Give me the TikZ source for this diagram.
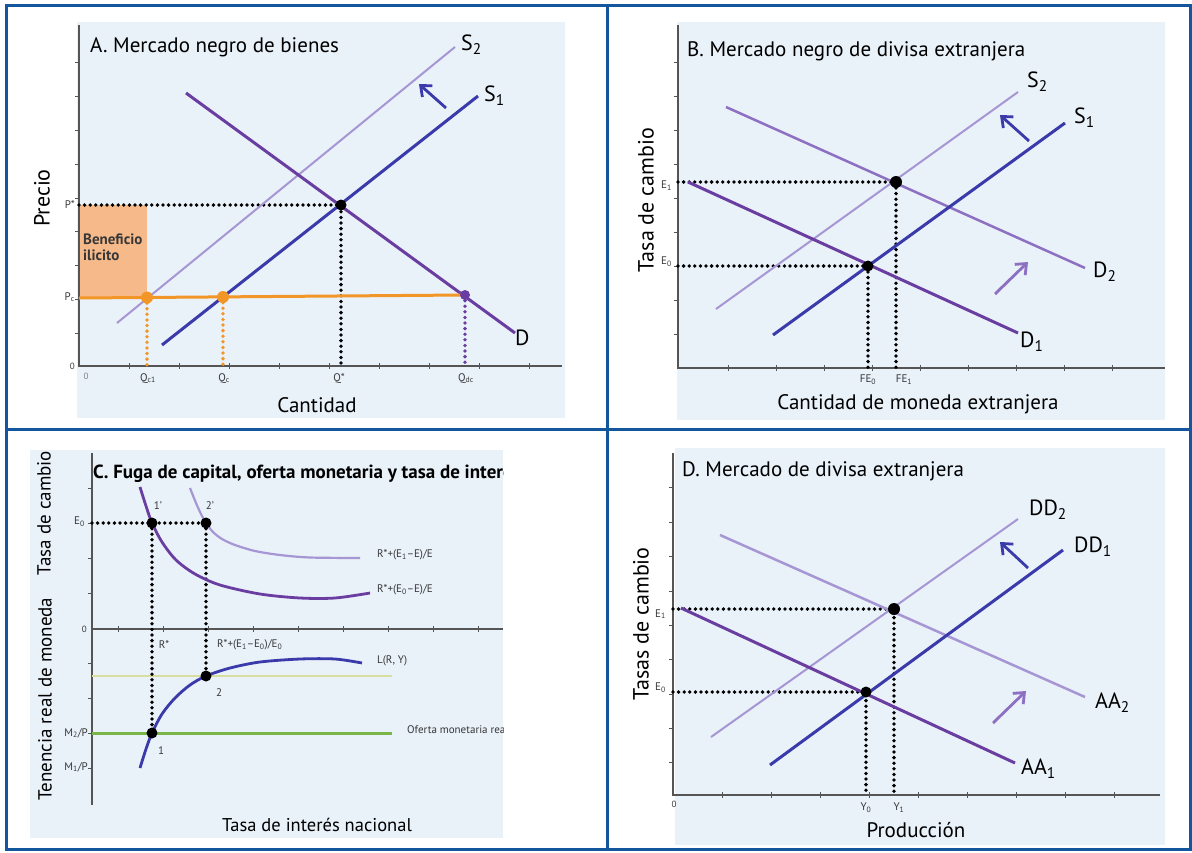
\documentclass[tikz,border=0pt]{standalone}
\usepackage{fontspec}
\setmainfont{PT Sans}
\usepackage{tikz}
\usetikzlibrary{arrows.meta}
\definecolor{frameblue}{RGB}{20,86,158}
\definecolor{bgblue}{RGB}{233,241,249}
\definecolor{axisgray}{RGB}{85,85,85}
\definecolor{labelgray}{RGB}{55,55,55}
\definecolor{dpurple}{RGB}{106,62,160}
\definecolor{mpurple}{RGB}{142,112,194}
\definecolor{lpurple}{RGB}{166,150,212}
\definecolor{sblue}{RGB}{58,58,170}
\definecolor{pcorange}{RGB}{243,150,40}
\definecolor{profitfill}{RGB}{246,185,138}
\definecolor{msgreen}{RGB}{122,182,72}
\definecolor{palegreen}{RGB}{216,222,160}
\tikzset{panelframe/.style={draw=frameblue,line width=3pt}}
\tikzset{plotbg/.style={fill=bgblue}}
\tikzset{axisline/.style={draw=axisgray,line width=1.3pt}}
\tikzset{tickmark/.style={draw=axisgray,line width=0.8pt}}
\tikzset{guide/.style={line width=3.8pt,dash pattern=on 0pt off 5.6pt,line cap=round}}
\tikzset{bigdot/.style={circle,fill=black,inner sep=0pt,minimum size=11pt}}
\tikzset{shiftarrow/.style={line width=2.8pt,-{Straight Barb[length=9pt,width=15pt]}}}
\tikzset{ticklabel/.style={text=labelgray,inner sep=1pt,font=\fontsize{11}{12}\selectfont}}
\tikzset{curvelabel/.style={anchor=west,inner sep=1pt,font=\fontsize{22}{24}\selectfont}}
\tikzset{paneltitle/.style={anchor=base west,inner sep=0pt,font=\fontsize{21}{23}\selectfont}}
\tikzset{axistitle/.style={inner sep=0pt,font=\fontsize{21}{23}\selectfont}}
\begin{document}
\begin{tikzpicture}[x=1pt,y=-1pt]
\useasboundingbox (0,0) rectangle (1192,852);

\fill[plotbg] (77,22) rectangle (565,418);
\fill[profitfill] (79,205) rectangle (147,298);
\draw[axisline] (79,25) -- (79,366) -- (562,366);
\foreach \ty in {62,96,130,164,198,231,265,299,333} \draw[tickmark] (75,\ty) -- (79,\ty);
\foreach \tx in {129,179,...,529} \draw[tickmark] (\tx,363) -- (\tx,369);
\coordinate (pstarA) at (79,205);
\coordinate (eqA) at (341,205);
\coordinate (qstarA) at (341,366);
\coordinate (pcA) at (79,298);
\coordinate (qc1A) at (147,297.5);
\coordinate (qcA) at (223,297);
\coordinate (qdcA) at (465,295);
\coordinate (qc1axis) at (147,366);
\coordinate (qcaxis) at (223,366);
\coordinate (qdcaxis) at (465,366);
\draw[guide] (pstarA) -- (eqA) -- (qstarA);
\draw[guide,pcorange] (qc1A) -- (qc1axis);
\draw[guide,pcorange] (qcA) -- (qcaxis);
\draw[guide,dpurple] (qdcA) -- (qdcaxis);
\coordinate (s2A0) at (117,323);
\coordinate (s2A1) at (455,47);
\coordinate (s1A0) at (162,345);
\coordinate (s1A1) at (478,96);
\coordinate (dA0) at (186,93);
\coordinate (dA1) at (515,333);
\draw[lpurple,line width=2pt] (s2A0) -- (s2A1);
\draw[sblue,line width=3pt] (s1A0) -- (s1A1);
\draw[dpurple,line width=3pt] (dA0) -- (dA1);
\draw[pcorange,line width=3pt] (pcA) -- (qdcA);
\node[bigdot] (dotA) at (eqA) {};
\node[bigdot,fill=pcorange,minimum size=12pt] (dotQc1) at (qc1A) {};
\node[bigdot,fill=pcorange,minimum size=12pt] (dotQc) at (qcA) {};
\node[bigdot,fill=dpurple,minimum size=10pt] (dotQdc) at (qdcA) {};
\coordinate (arrA0) at (446,108);
\coordinate (arrA1) at (419,84);
\draw[shiftarrow,sblue] (arrA0) -- (arrA1);
\node[curvelabel] (labS2A) at (460,45) {S\textsubscript{2}};
\node[curvelabel] (labS1A) at (483,96) {S\textsubscript{1}};
\node[curvelabel] (labDA) at (514,338) {D};
\node[font=\bfseries\fontsize{15}{16}\selectfont,text=labelgray,anchor=north west,align=left,inner sep=0pt] (benef) at (83,234) {Beneficio\\ilicito};
\node[ticklabel,anchor=east] (labPstar) at (76,205) {P*};
\node[ticklabel,anchor=east] (labPc) at (76,297) {P\textsubscript{c}};
\node[ticklabel,anchor=east,font=\fontsize{9}{10}\selectfont] (zeroA) at (76,366) {0};
\node[ticklabel,anchor=north,font=\fontsize{9}{10}\selectfont,text=gray] (zeroAx) at (86,372) {0};
\node[ticklabel,anchor=north] (labQc1) at (148,372) {Q\textsubscript{c1}};
\node[ticklabel,anchor=north] (labQc) at (224,372) {Q\textsubscript{c}};
\node[ticklabel,anchor=north] (labQstar) at (339,372) {Q*};
\node[ticklabel,anchor=north] (labQdc) at (466,372) {Q\textsubscript{dc}};
\node[paneltitle] (titleA) at (90,52) {A. Mercado negro de bienes};
\node[axistitle,rotate=90,font=\fontsize{22}{24}\selectfont] (yA) at (42,198) {Precio};
\node[axistitle] (xA) at (317,405) {Cantidad};

\fill[plotbg] (677,22) rectangle (1165,420);
\draw[axisline] (678,25) -- (678,368) -- (1165,368);
\foreach \ty in {62,96,130,164,198,232,266,300,334} \draw[tickmark] (674,\ty) -- (678,\ty);
\foreach \tx in {728,776,...,1112} \draw[tickmark] (\tx,365) -- (\tx,371);
\coordinate (e1B) at (678,182);
\coordinate (e0B) at (678,266);
\coordinate (eq1B) at (896,182);
\coordinate (eq0B) at (868,266);
\coordinate (fe1B) at (896,368);
\coordinate (fe0B) at (868,368);
\draw[guide] (e1B) -- (eq1B) -- (fe1B);
\draw[guide] (e0B) -- (eq0B) -- (fe0B);
\coordinate (s2B0) at (716,309);
\coordinate (s2B1) at (1018,92);
\coordinate (s1B0) at (773,335);
\coordinate (s1B1) at (1065,123);
\coordinate (d2B0) at (726,107);
\coordinate (d2B1) at (1085,268);
\coordinate (d1B0) at (688,182);
\coordinate (d1B1) at (1018,333);
\draw[lpurple,line width=2pt] (s2B0) -- (s2B1);
\draw[mpurple,line width=2.5pt] (d2B0) -- (d2B1);
\draw[sblue,line width=3pt] (s1B0) -- (s1B1);
\draw[dpurple,line width=3pt] (d1B0) -- (d1B1);
\node[bigdot,minimum size=12pt] (dot1B) at (eq1B) {};
\node[bigdot] (dot0B) at (eq0B) {};
\coordinate (arrSB0) at (1029,141);
\coordinate (arrSB1) at (1000,115);
\coordinate (arrDB0) at (995,294);
\coordinate (arrDB1) at (1028,262);
\draw[shiftarrow,sblue] (arrSB0) -- (arrSB1);
\draw[shiftarrow,mpurple] (arrDB0) -- (arrDB1);
\node[curvelabel] (labS2B) at (1026,82) {S\textsubscript{2}};
\node[curvelabel] (labS1B) at (1073,118) {S\textsubscript{1}};
\node[curvelabel] (labD2B) at (1092,272) {D\textsubscript{2}};
\node[curvelabel] (labD1B) at (1019,342) {D\textsubscript{1}};
\node[ticklabel,anchor=east] (labE1B) at (673,186) {E\textsubscript{1}};
\node[ticklabel,anchor=east] (labE0B) at (673,262) {E\textsubscript{0}};
\node[ticklabel,anchor=north] (labFE0) at (868,374) {FE\textsubscript{0}};
\node[ticklabel,anchor=north] (labFE1) at (904,374) {FE\textsubscript{1}};
\node[paneltitle] (titleB) at (687,56) {B. Mercado negro de divisa extranjera};
\node[axistitle,rotate=90,font=\fontsize{22}{24}\selectfont] (yB) at (646,200) {Tasa de cambio};
\node[axistitle] (xB) at (918,404) {Cantidad de moneda extranjera};

\fill[plotbg] (30,450) rectangle (503,838);
\draw[axisline] (92,453) -- (92,805);
\draw[axisline] (92,629) -- (503,629);
\foreach \ty in {488,523,558,593,663,698,733,768} \draw[tickmark] (88,\ty) -- (92,\ty);
\foreach \tx in {118,163,...,478} \draw[tickmark] (\tx,626) -- (\tx,632);
\coordinate (e0C) at (92,523);
\coordinate (p1C) at (152,523);
\coordinate (p2C) at (206,523);
\coordinate (q1C) at (152,733);
\coordinate (q2C) at (206,676);
\coordinate (m2C) at (92,733);
\coordinate (m2Cend) at (392,733);
\coordinate (mC) at (92,676);
\coordinate (mCend) at (392,676);
\draw[palegreen,line width=2pt] (mC) -- (mCend);
\draw[msgreen,line width=3pt] (m2C) -- (m2Cend);
\draw[guide] (e0C) -- (p2C);
\draw[guide] (p1C) -- (q1C);
\draw[guide] (p2C) -- (q2C);
\draw[lpurple,line width=2.2pt] plot[smooth] coordinates {(190,488) (196,503) (201,514) (p2C) (213,532) (222,539) (235,545) (255,551) (280,555) (310,557.5) (360,558)};
\draw[dpurple,line width=2.8pt] plot[smooth] coordinates {(140,487) (146,506) (p1C) (162,542) (176,560) (195,574) (220,585) (260,594) (300,598) (335,598) (370,593)};
\draw[sblue,line width=2.8pt] plot[smooth] coordinates {(140,768) (146,749) (q1C) (162,714) (175,698) (190,685) (q2C) (230,668) (260,662) (300,659) (335,659) (362,663)};
\node[bigdot] (dot1C) at (p1C) {};
\node[bigdot] (dot2C) at (p2C) {};
\node[bigdot] (dot3C) at (q1C) {};
\node[bigdot] (dot4C) at (q2C) {};
\node[ticklabel] (lab1pC) at (158,506) {1'};
\node[ticklabel] (lab2pC) at (210,506) {2'};
\node[ticklabel] (lab1C) at (161,751) {1};
\node[ticklabel] (lab2C) at (219,693) {2};
\node[ticklabel,anchor=east] (labE0C) at (86,522) {E\textsubscript{0}};
\node[ticklabel,anchor=east,font=\fontsize{9}{10}\selectfont] (zeroC) at (88,629) {0};
\node[ticklabel,anchor=east] (labM2C) at (89,733) {M\textsubscript{2}/P};
\node[ticklabel,anchor=east] (labM1C) at (89,767) {M\textsubscript{1}/P};
\node[ticklabel] (labRC) at (164,645) {R*};
\node[ticklabel,anchor=west] (labR2C) at (216,645) {R*+(E\textsubscript{1}–E\textsubscript{0})/E\textsubscript{0}};
\node[ticklabel,anchor=west] (labU2C) at (376,555) {R*+(E\textsubscript{1}–E)/E};
\node[ticklabel,anchor=west] (labU1C) at (376,590) {R*+(E\textsubscript{0}–E)/E};
\node[ticklabel,anchor=west] (labLC) at (376,661) {L(R, Y)};
\begin{scope}
\clip (30,450) rectangle (503,838);
\node[paneltitle,font=\bfseries\fontsize{19}{21}\selectfont] (titleC) at (93,478) {C. Fuga de capital, oferta monetaria y tasa de interés nacional};
\node[ticklabel,anchor=west] (labMSC) at (406,730) {Oferta monetaria real};
\end{scope}
\node[axistitle,rotate=90,font=\fontsize{19}{21}\selectfont] (yC1) at (44,513) {Tasa de cambio};
\node[axistitle,rotate=90,font=\fontsize{19}{21}\selectfont] (yC2) at (45,699) {Tenencia real de moneda};
\node[axistitle,font=\fontsize{18.5}{20}\selectfont] (xC) at (317,825) {Tasa de interés nacional};

\fill[plotbg] (675,448) rectangle (1165,845);
\draw[axisline] (673,453) -- (673,795) -- (1160,795);
\foreach \ty in {487,522,556,591,625,659,694,728,762} \draw[tickmark] (669,\ty) -- (673,\ty);
\foreach \tx in {722,771,...,1114} \draw[tickmark] (\tx,792) -- (\tx,798);
\coordinate (e1D) at (673,609);
\coordinate (e0D) at (673,692);
\coordinate (eq1D) at (894,609);
\coordinate (eq0D) at (866,692);
\coordinate (y1D) at (894,795);
\coordinate (y0D) at (866,795);
\draw[guide] (e1D) -- (eq1D) -- (y1D);
\draw[guide] (e0D) -- (eq0D) -- (y0D);
\coordinate (dd2D0) at (711,737);
\coordinate (dd2D1) at (1018,519);
\coordinate (dd1D0) at (770,765);
\coordinate (dd1D1) at (1063,550);
\coordinate (aa2D0) at (720,535);
\coordinate (aa2D1) at (1085,697);
\coordinate (aa1D0) at (681,608);
\coordinate (aa1D1) at (1015,763);
\draw[lpurple,line width=2pt] (dd2D0) -- (dd2D1);
\draw[lpurple,line width=2.5pt] (aa2D0) -- (aa2D1);
\draw[sblue,line width=3pt] (dd1D0) -- (dd1D1);
\draw[dpurple,line width=3pt] (aa1D0) -- (aa1D1);
\node[bigdot,minimum size=12pt] (dot1D) at (eq1D) {};
\node[bigdot] (dot0D) at (eq0D) {};
\coordinate (arrDD0) at (1028,568);
\coordinate (arrDD1) at (1000,542);
\coordinate (arrAA0) at (993,723);
\coordinate (arrAA1) at (1026,691);
\draw[shiftarrow,sblue] (arrDD0) -- (arrDD1);
\draw[shiftarrow,mpurple] (arrAA0) -- (arrAA1);
\node[curvelabel] (labDD2) at (1028,510) {DD\textsubscript{2}};
\node[curvelabel] (labDD1) at (1073,547) {DD\textsubscript{1}};
\node[curvelabel] (labAA2) at (1094,703) {AA\textsubscript{2}};
\node[curvelabel] (labAA1) at (1020,769) {AA\textsubscript{1}};
\node[ticklabel,anchor=east] (labE1D) at (667,614) {E\textsubscript{1}};
\node[ticklabel,anchor=east] (labE0D) at (667,688) {E\textsubscript{0}};
\node[ticklabel,font=\fontsize{9}{10}\selectfont] (zeroD) at (674,804) {0};
\node[ticklabel,anchor=north] (labY0) at (866,802) {Y\textsubscript{0}};
\node[ticklabel,anchor=north] (labY1) at (899,802) {Y\textsubscript{1}};
\node[paneltitle] (titleD) at (682,476) {D. Mercado de divisa extranjera};
\node[axistitle,rotate=90,font=\fontsize{22}{24}\selectfont] (yD) at (641,624) {Tasas de cambio};
\node[axistitle] (xD) at (916,830) {Producción};

\draw[panelframe] (6,5) rectangle (1190,849);
\draw[panelframe] (607,5) -- (607,849);
\draw[panelframe] (6,429) -- (1190,429);
\end{tikzpicture}
\end{document}
